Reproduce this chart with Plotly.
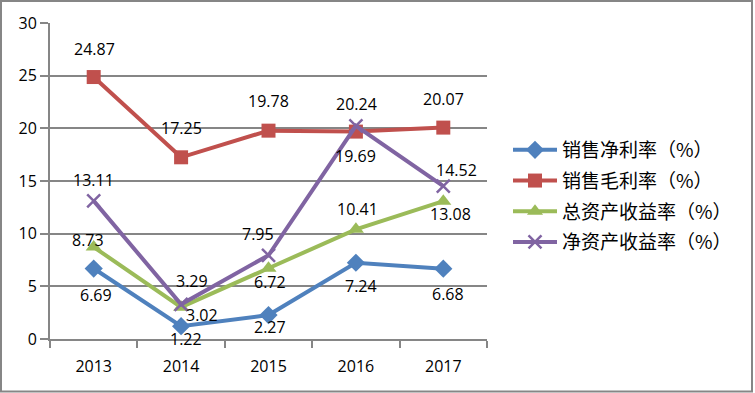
import plotly.graph_objects as go

years = ["2013", "2014", "2015", "2016", "2017"]
net_margin = [6.69, 1.22, 2.27, 7.24, 6.68]
gross_margin = [24.87, 17.25, 19.78, 19.69, 20.07]
roa = [8.73, 3.02, 6.72, 10.41, 13.08]
roe = [13.11, 3.29, 7.95, 20.24, 14.52]
series_names = ["销售净利率（%）", "销售毛利率（%）", "总资产收益率（%）", "净资产收益率（%）"]
y_ticks = [0, 5, 10, 15, 20, 25, 30]

series_values = [net_margin, gross_margin, roa, roe]
colors = ["#4F81BD", "#C0504D", "#9BBB59", "#8064A2"]
symbols = ["diamond", "square", "triangle-up", "x-thin"]
msizes = [14, 14, 14, 13]
# label pixel offsets (dx, dy) per point
offsets = [
    [(2, -26), (5, -13), (1, -12), (5, -23), (5, -25)],
    [(1, 28), (0, 29), (0, 30), (0, -24), (0, 29)],
    [(-6, 7), (21, -8), (1, -14), (2, 20), (7, -13)],
    [(0, 21), (11, 23), (-11, 21), (1, 22), (13, 16)],
]

GRID = "#868686"
FONT = "Open Sans, Liberation Sans, sans-serif"

fig = go.Figure()
for i, (name, vals) in enumerate(zip(series_names, series_values)):
    marker = dict(symbol=symbols[i], size=msizes[i], color=colors[i])
    if symbols[i] == "x-thin":
        marker["line"] = dict(color=colors[i], width=2.5)
    fig.add_trace(go.Scatter(
        x=years, y=vals, name=name, mode="lines+markers",
        line=dict(color=colors[i], width=4),
        marker=marker, legendgroup=str(i),
    ))

annotations = []
for i, vals in enumerate(series_values):
    for j, v in enumerate(vals):
        dx, dy = offsets[i][j]
        annotations.append(dict(
            x=j, y=v, xref="x", yref="y", text=f"{v:.2f}", showarrow=False,
            xshift=dx, yshift=dy,
            font=dict(family=FONT, size=16, color="black"),
        ))

L, R, T, B = 50, 755 - 487, 23, 393 - 339
W, H = 755 - L - R, 393 - T - B
def px(x):
    return (x - L) / W
def py(y):
    return (393 - B - y) / H

fig.add_shape(type="rect", xref="paper", yref="paper",
              x0=px(1), x1=px(752), y0=py(1), y1=py(391.5),
              line=dict(color=GRID, width=2), layer="below")

fig.update_layout(
    width=755, height=393,
    margin=dict(l=L, r=R, t=T, b=B),
    paper_bgcolor="white", plot_bgcolor="white",
    showlegend=True,
    legend=dict(
        x=px(508), y=py(131), xanchor="left", yanchor="top",
        font=dict(family="Noto Sans CJK SC", size=19, color="black"),
        traceorder="grouped", tracegroupgap=3, itemwidth=44,
        bgcolor="rgba(0,0,0,0)",
    ),
    annotations=annotations,
    xaxis=dict(
        type="category", range=[-0.5, 4.5],
        showline=True, linecolor=GRID, linewidth=2,
        ticks="outside", tickson="boundaries", ticklen=7, tickwidth=2, tickcolor=GRID,
        showgrid=False, zeroline=False,
        tickfont=dict(family=FONT, size=16, color="black"),
        ticklabelstandoff=12,
    ),
    yaxis=dict(
        range=[0, 30], tickvals=y_ticks,
        showline=True, linecolor=GRID, linewidth=2,
        ticks="outside", ticklen=8, tickwidth=2, tickcolor=GRID,
        showgrid=True, gridcolor=GRID, gridwidth=2, zeroline=False,
        tickfont=dict(family=FONT, size=16, color="black"),
    ),
)

fig.write_html(
    "out.html",
    config={"displayModeBar": False},
    post_script="document.body.style.margin='0';document.body.style.overflow='hidden';",
)
